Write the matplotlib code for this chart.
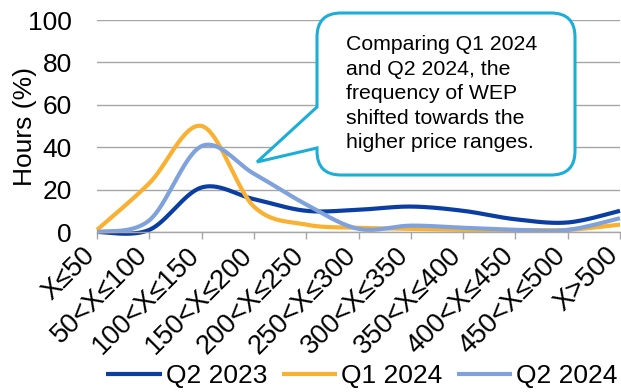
import numpy as np
import matplotlib
matplotlib.use("Agg")
import matplotlib.pyplot as plt
import matplotlib.transforms as mtransforms
from matplotlib.path import Path
from matplotlib.patches import PathPatch

plt.rcParams["font.family"] = ["Liberation Sans", "DejaVu Sans"]

# -------- DATA --------
price_bins = ["X≤50", "50<X≤100", "100<X≤150", "150<X≤200", "200<X≤250",
              "250<X≤300", "300<X≤350", "350<X≤400", "400<X≤450",
              "450<X≤500", "X>500"]
q2_2023 = [0, 1, 21, 15.5, 10, 10.5, 12, 10, 6, 4.5, 10]
q1_2024 = [1, 23, 50, 12, 3.5, 2, 1.5, 1, 1, 1, 3.5]
q2_2024 = [0, 5.5, 40.5, 27.5, 13, 1.5, 3, 2, 1, 1, 6.5]

series = [("Q2 2023", q2_2023, "#0B3EA3"),
          ("Q1 2024", q1_2024, "#FAB131"),
          ("Q2 2024", q2_2024, "#7FA2DD")]


def smooth(y, n=40):
    # Catmull-Rom style bezier through each point, like spreadsheet smoothed lines
    y = np.asarray(y, float)
    x = np.arange(len(y), dtype=float)
    px = np.concatenate([[x[0]], x, [x[-1]]])
    py = np.concatenate([[y[0]], y, [y[-1]]])
    xs, ys = [], []
    t = np.linspace(0, 1, n)
    for i in range(len(y) - 1):
        p0 = np.array([x[i], y[i]])
        p3 = np.array([x[i + 1], y[i + 1]])
        p1 = p0 + (np.array([px[i + 2], py[i + 2]]) - np.array([px[i], py[i]])) / 6
        p2 = p3 - (np.array([px[i + 3], py[i + 3]]) - np.array([px[i + 1], py[i + 1]])) / 6
        b = ((1 - t) ** 3)[:, None] * p0 + (3 * (1 - t) ** 2 * t)[:, None] * p1 \
            + (3 * (1 - t) * t ** 2)[:, None] * p2 + (t ** 3)[:, None] * p3
        xs.append(b[:, 0])
        ys.append(b[:, 1])
    return np.concatenate(xs), np.concatenate(ys)


W, H = 621, 392
fig = plt.figure(figsize=(W / 100, H / 100), dpi=100)
ax = fig.add_axes([97 / W, 1 - 232 / H, 523 / W, 212 / H])

for name, vals, color in series:
    sx, sy = smooth(vals)
    ax.plot(sx, sy, color=color, lw=3.0, label=name, solid_capstyle="butt", clip_on=False)

ax.set_xlim(0, len(price_bins) - 1)
ax.set_ylim(0, 100)
ax.set_yticks(range(0, 101, 20))
ax.yaxis.grid(True, color="#A6A6A6", lw=1.0)
ax.set_axisbelow(True)
for s in ["left", "right", "top"]:
    ax.spines[s].set_visible(False)
ax.spines["bottom"].set_color("#A6A6A6")
ax.spines["bottom"].set_linewidth(1.0)
ax.tick_params(axis="y", length=0, labelsize=19, pad=18)
ax.tick_params(axis="x", length=5, color="#A6A6A6", width=1.0, labelsize=19.5, pad=9)
ax.set_xticks(range(len(price_bins)))
ax.set_xticklabels(price_bins, rotation=45, ha="right", va="center",
                   rotation_mode="anchor")
# nudge the rotated labels a little left so the last one stays inside
shift = mtransforms.ScaledTranslation(-6 / 100, 0, fig.dpi_scale_trans)
for lbl in ax.get_xticklabels():
    lbl.set_transform(lbl.get_transform() + shift)
ax.set_ylabel("Hours (%)", fontsize=19)
ax.yaxis.set_label_coords(-0.114, 0.5)

# callout box with tail
left, right, top, bottom, r = 317, 575, 13, 175, 24
tail_a, tail_b, tip = 107, 148, (257, 162)
pts = [
    (left + r, top), (right - r, top), (right, top), (right, top + r),
    (right, bottom - r), (right, bottom), (right - r, bottom),
    (left + r, bottom), (left, bottom), (left, bottom - r),
    (left, tail_b), tip, (left, tail_a),
    (left, top + r), (left, top), (left + r, top),
]
codes = [Path.MOVETO, Path.LINETO, Path.CURVE3, Path.CURVE3,
         Path.LINETO, Path.CURVE3, Path.CURVE3,
         Path.LINETO, Path.CURVE3, Path.CURVE3,
         Path.LINETO, Path.LINETO, Path.LINETO,
         Path.LINETO, Path.CURVE3, Path.CURVE3]
verts = [(px / W, 1 - py / H) for px, py in pts]
callout = PathPatch(Path(verts, codes), transform=fig.transFigure,
                    facecolor="white", edgecolor="#1BAED8", lw=2.2, zorder=5)
fig.patches.append(callout)
fig.text(346 / W, 1 - 35 / H,
         "Comparing Q1 2024\nand Q2 2024, the\nfrequency of WEP\nshifted towards the\nhigher price ranges.",
         ha="left", va="top", fontsize=15.3, linespacing=1.37, zorder=6)

fig.legend(loc="center", bbox_to_anchor=(362 / W, 1 - 376 / H), ncol=3, frameon=False,
           fontsize=19, handlelength=2.1, handletextpad=0.15, columnspacing=0.55)

fig.savefig("out.png", dpi=100)
